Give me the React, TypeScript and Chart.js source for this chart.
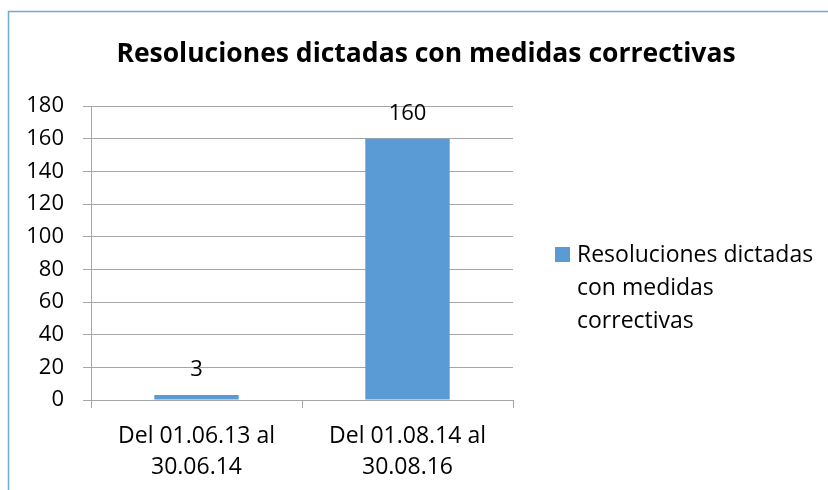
import React, { useEffect, useRef } from "react";
import { Chart, registerables } from "chart.js";

Chart.register(...registerables);

const title = "Resoluciones dictadas con medidas correctivas";
const categories: string[][] = [
  ["Del 01.06.13 al", "30.06.14"],
  ["Del 01.08.14 al", "30.08.16"],
];
const seriesName = "Resoluciones dictadas con medidas correctivas";
const legendLines = ["Resoluciones dictadas", "con medidas", "correctivas"];
const values = [3, 160];
const yMin = 0;
const yMax = 180;
const yStep = 20;

const FONT = "'Open Sans', 'Liberation Sans', sans-serif";
const BAR = "#5B9BD5";
const GRID = "#A6A6A6";

const decorPlugin = {
  id: "decor",
  afterDraw(chart: any) {
    const ctx = chart.ctx as CanvasRenderingContext2D;
    ctx.save();
    // outer frame (left + top visible)
    ctx.strokeStyle = "#6FA8DC";
    ctx.lineWidth = 1.5;
    ctx.beginPath();
    ctx.moveTo(8.5, 490);
    ctx.lineTo(8.5, 11.5);
    ctx.lineTo(828, 11.5);
    ctx.stroke();

    // title
    ctx.fillStyle = "#000";
    ctx.font = `bold 26.5px ${FONT}`;
    ctx.textAlign = "center";
    ctx.textBaseline = "alphabetic";
    ctx.fillText(title, 426, 62);

    // data labels
    const meta = chart.getDatasetMeta(0);
    ctx.font = `22px ${FONT}`;
    ctx.textAlign = "center";
    ctx.textBaseline = "middle";
    meta.data.forEach((bar: any, i: number) => {
      ctx.fillText(String(values[i]), bar.x, bar.y - 25);
    });

    // legend
    const lx = 555;
    const ly = 247;
    ctx.fillStyle = BAR;
    ctx.fillRect(lx, ly, 15, 15);
    ctx.fillStyle = "#000";
    ctx.font = `23px ${FONT}`;
    ctx.textAlign = "left";
    ctx.textBaseline = "alphabetic";
    legendLines.forEach((line, i) => {
      ctx.fillText(line, 577, 262 + i * 33);
    });
    ctx.restore();
  },
};

export default function App() {
  const ref = useRef<HTMLCanvasElement | null>(null);
  useEffect(() => {
    if (!ref.current) return;
    const chart = new Chart(ref.current, {
      type: "bar",
      data: {
        labels: categories,
        datasets: [
          {
            label: seriesName,
            data: values,
            backgroundColor: BAR,
            barPercentage: 0.4,
            categoryPercentage: 1,
          },
        ],
      },
      options: {
        animation: false,
        responsive: false,
        devicePixelRatio: 1,
        layout: { padding: { left: 0, right: 315, top: 106, bottom: 0 } },
        plugins: {
          legend: { display: false },
          tooltip: { enabled: false },
          title: { display: false },
        },
        scales: {
          x: {
            offset: true,
            afterFit: (scale: any) => {
              scale.height = 90;
            },
            grid: {
              offset: true,
              drawOnChartArea: false,
              drawTicks: true,
              tickLength: 8,
              color: GRID,
            },
            border: { color: GRID },
            ticks: {
              color: "#000",
              font: { family: FONT, size: 23, lineHeight: 1.35 },
              padding: 13,
              maxRotation: 0,
            },
          },
          y: {
            min: yMin,
            max: yMax,
            afterFit: (scale: any) => {
              scale.width = 91;
            },
            grid: { color: GRID, tickLength: 8, drawTicks: true },
            border: { color: GRID },
            ticks: {
              stepSize: yStep,
              color: "#000",
              font: { family: FONT, size: 22 },
              padding: 19,
            },
          },
        },
      },
      plugins: [decorPlugin],
    });
    return () => chart.destroy();
  }, []);
  return (
    <div style={{ position: "fixed", left: 0, top: 0, width: 828, height: 490, background: "#fff" }}>
      <canvas ref={ref} width={828} height={490} style={{ display: "block" }} />
    </div>
  );
}
